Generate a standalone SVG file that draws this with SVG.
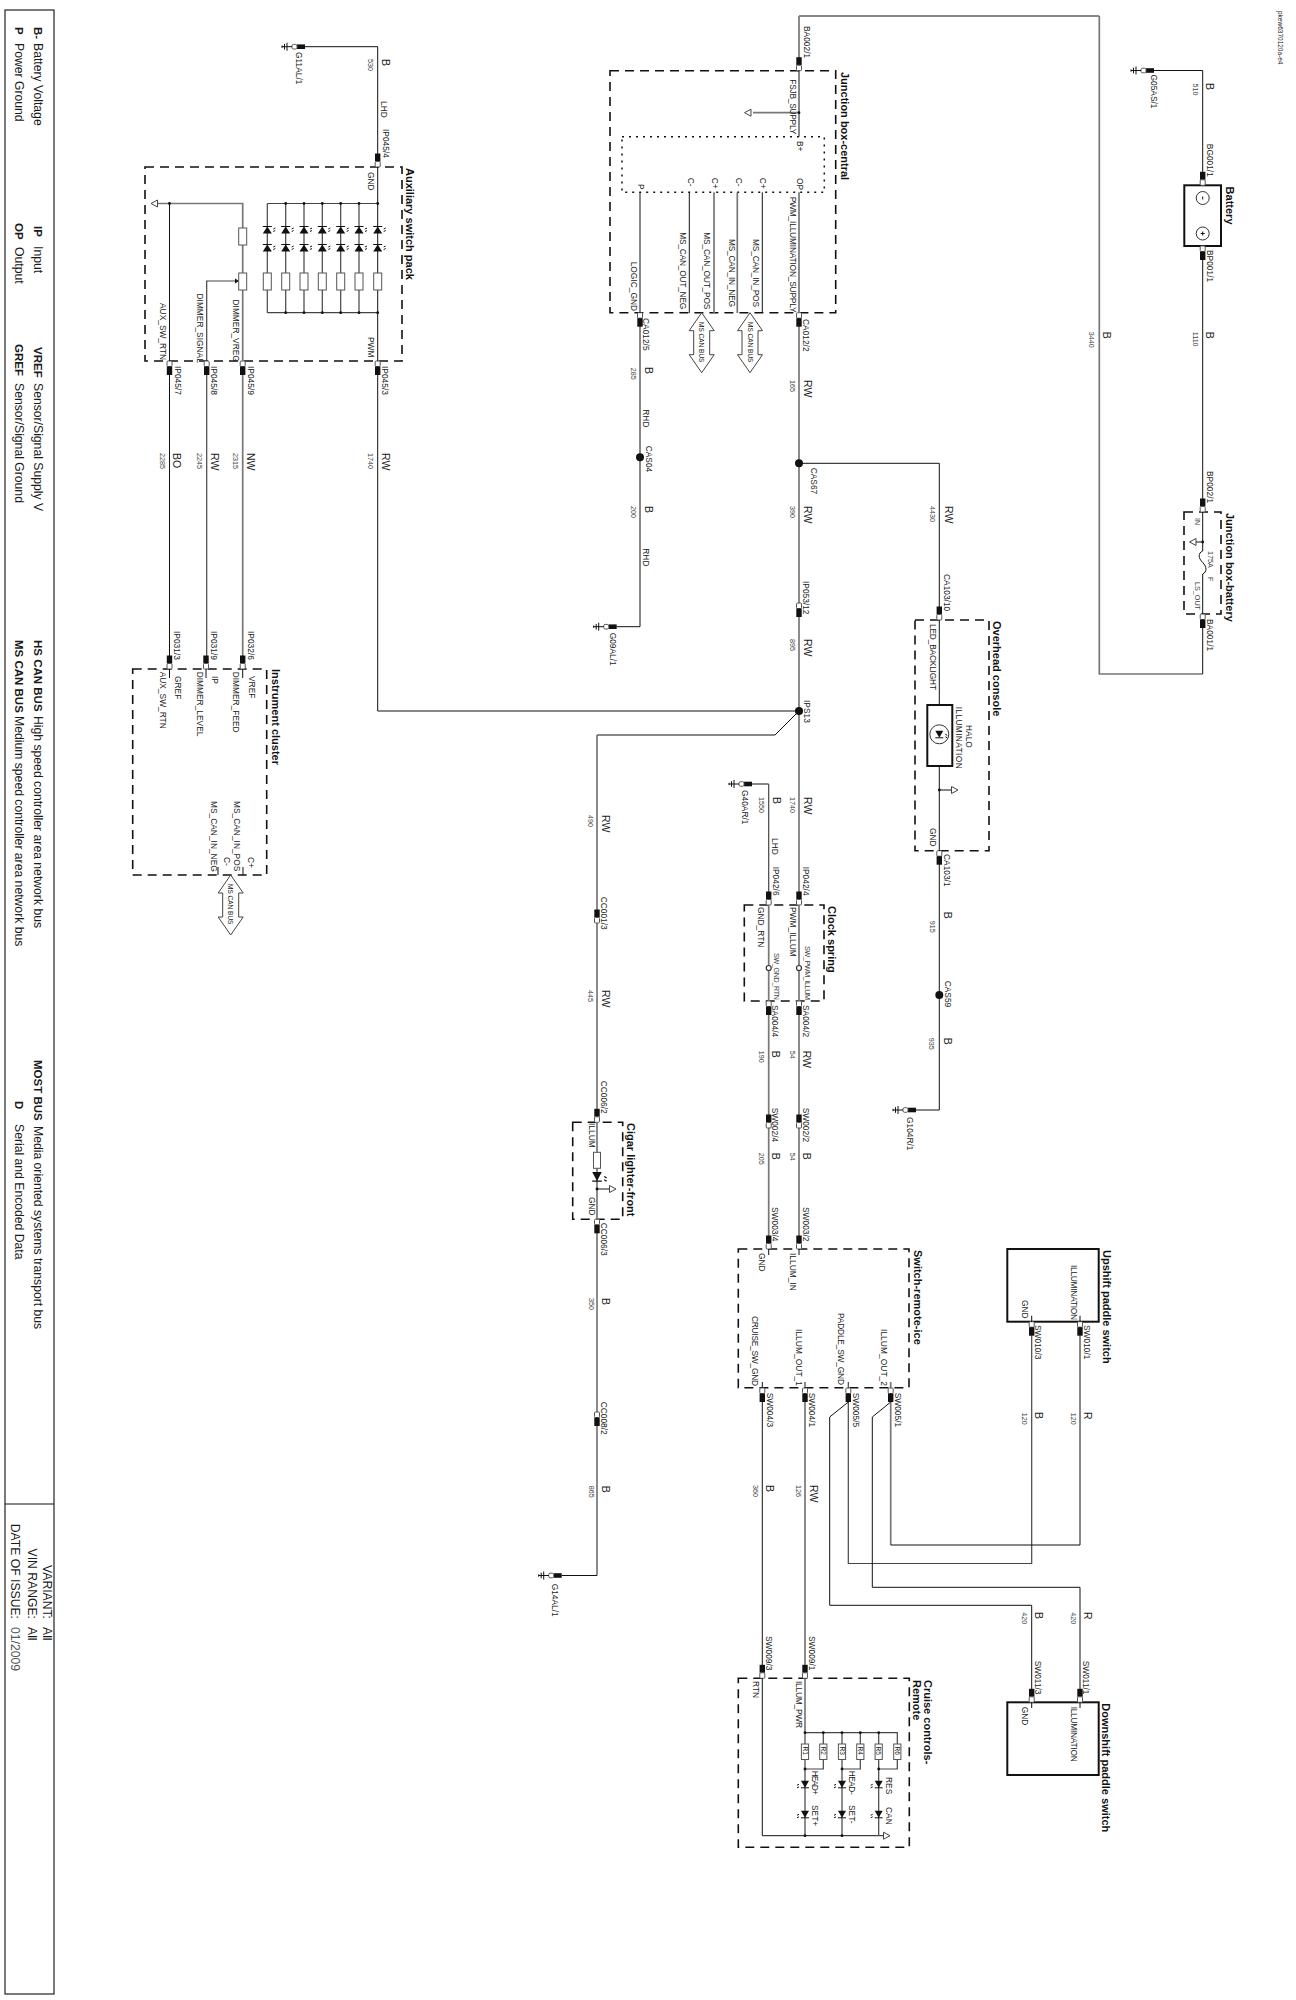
<svg xmlns="http://www.w3.org/2000/svg" width="1296" height="2000" viewBox="0 0 1296 2000">
<style>
text{font-family:"Liberation Sans",Arial,sans-serif;fill:#1a1a1a}
.s{font-size:8.4px}.n{font-size:7.2px;fill:#444}.c{font-size:10.5px}.t{font-size:11px;font-weight:bold;fill:#111}.l{font-size:12.2px}.lb{font-size:11.5px;font-weight:bold}.m{font-size:6.5px}
.k{fill:none;stroke:#111;stroke-width:1}.g{fill:none;stroke:#777;stroke-width:1.7}.h{fill:none;stroke:#444;stroke-width:1.2}
.d{fill:none;stroke:#111;stroke-width:1.6;stroke-dasharray:9 6}.o{fill:none;stroke:#111;stroke-width:1.5;stroke-dasharray:2 5}.b{fill:#fff;stroke:#111;stroke-width:2}
.r{fill:#fff;stroke:#555;stroke-width:1}.tri{fill:#fff;stroke:#444;stroke-width:1}.bus{fill:#fff;stroke:#444;stroke-width:1}
</style>
<defs>
<g id="cD"><rect x="-2.7" y="-13.5" width="5.4" height="8" fill="#111"/><rect x="-2.5" y="-5.5" width="5" height="5.5" rx="1" fill="#fff" stroke="#555"/></g>
<g id="cU"><rect x="-2.5" y="0" width="5" height="5.5" rx="1" fill="#fff" stroke="#555"/><rect x="-2.7" y="5.5" width="5.4" height="8.5" fill="#111"/></g>
<g id="gnd"><rect x="-8" y="-2.3" width="8" height="4.6" fill="#111"/><rect x="-13" y="-2.3" width="5" height="4.6" rx="1.5" fill="#fff" stroke="#555"/><path class="k" d="M-13 0H-23M-18 -4V4M-20.5 -2.8V2.8M-23 -1.2V1.2"/></g>
<g id="lu"><polygon points="-4.5,3.5 4.5,3.5 0,-3.5" fill="#111"/><path class="k" d="M-4.5 -3.5H4.5M6 -1L8 -2M6 1.5L8 .5"/></g>
<g id="ld"><polygon points="-4,-3.5 4,-3.5 0,3.5" fill="#111"/><path class="k" d="M-4 3.5H4M-6 0L-8 1M-6 2.5L-8 3.5"/></g>
<polygon id="tL" class="tri" points="0,0 6.5,-3.5 6.5,3.5"/>
<polygon id="tR" class="tri" points="0,0 -6.5,-3.5 -6.5,3.5"/>
<polygon id="bus" class="bus" points="0,0 12.5,18 8,18 8,42 12.5,42 0,60 -12.5,42 -8,42 -8,18 -12.5,18"/>
<rect id="r8" class="r" x="-4" y="0" width="8" height="17"/>
<rect id="r7" class="r" x="-3.6" y="0" width="7.2" height="15.5"/>
<circle id="dot" r="1.4" fill="#111"/>
<circle id="j" r="4" fill="#111"/>
</defs>

<g id="legend">
<rect x="5" y="10" width="49" height="1984" fill="none" stroke="#222" stroke-width="1.2"/>
<path class="k" d="M5 1504H54"/>
<text class="lb" transform="translate(34 27) rotate(90)">B-</text><text class="l" transform="translate(34 43) rotate(90)">Battery Voltage</text>
<text class="lb" transform="translate(15 27) rotate(90)">P</text><text class="l" transform="translate(15 43) rotate(90)">Power Ground</text>
<text class="lb" transform="translate(34 226) rotate(90)">IP</text><text class="l" transform="translate(34 246) rotate(90)">Input</text>
<text class="lb" transform="translate(15 223) rotate(90)">OP</text><text class="l" transform="translate(15 247) rotate(90)">Output</text>
<text class="lb" transform="translate(34 347) rotate(90)">VREF</text><text class="l" transform="translate(34 383) rotate(90)">Sensor/Signal Supply V</text>
<text class="lb" transform="translate(15 344) rotate(90)">GREF</text><text class="l" transform="translate(15 383) rotate(90)">Sensor/Signal Ground</text>
<text class="lb" transform="translate(34 640) rotate(90)">HS CAN BUS</text><text class="l" transform="translate(34 716) rotate(90)">High speed controller area network bus</text>
<text class="lb" transform="translate(15 640) rotate(90)">MS CAN BUS</text><text class="l" transform="translate(15 716) rotate(90)">Medium speed controller area network bus</text>
<text class="lb" transform="translate(34 1060) rotate(90)">MOST BUS</text><text class="l" transform="translate(34 1126) rotate(90)">Media oriented systems transport bus</text>
<text class="lb" transform="translate(15 1101) rotate(90)">D</text><text class="l" transform="translate(15 1124) rotate(90)">Serial and Encoded Data</text>
<text class="l" text-anchor="end" transform="translate(43 1619) rotate(90)">VARIANT:</text><text class="l" transform="translate(43 1627) rotate(90)">All</text>
<text class="l" text-anchor="end" transform="translate(28 1619) rotate(90)">VIN RANGE:</text><text class="l" transform="translate(28 1627) rotate(90)">All</text>
<text class="l" text-anchor="end" transform="translate(11 1619) rotate(90)">DATE OF ISSUE:</text><text class="l" transform="translate(11 1627) rotate(90)" style="fill:#555">01/2009</text>
</g>
<text class="m" transform="translate(1278 11) rotate(90)">pkew6370120a-e4</text>

<g id="connectors">
<path class="k" d="M305 46.7H377.7V167"/>
<path class="k" d="M377.7 361V711H799"/>
<path class="k" d="M169.5 361V669"/>
<path class="h" d="M206.7 361V669"/>
<path class="g" d="M242.7 361V669"/>
<path class="k" d="M799 16H1099.3"/>
<path class="g" d="M799 16V70.7M1099.3 16V674H1202.7"/>
<path class="k" d="M1154 70.5H1202.7V185M1202.7 246V512M1202.7 614V674"/>
<path class="g" d="M799 313V905"/>
<path class="k" d="M799 463.3H939.3V620M939.3 851V1110H916"/>
<path class="k" d="M640 313V626.7H616.7"/>
<path class="k" d="M799 711L775 735H597"/>
<path class="g" d="M597 735V1122M597 1219V1575.5"/>
<path class="k" d="M597 1575.5H561.7"/>
<path class="k" d="M752 784H768.7"/>
<path class="h" d="M768.7 784V905"/>
<path class="g" d="M768.7 1001V1249M799 1001V1249"/>
<path class="k" d="M762.3 1382V1678"/>
<path class="g" d="M805 1382V1678"/>
<path class="h" d="M848.3 1382V1563.5H1031.7V1316"/>
<path class="k" d="M848.3 1402L829.7 1417V1605.3H1031.7V1708"/>
<path class="g" d="M890.7 1382V1545"/>
<path class="k" d="M890.7 1545H1080V1316"/>
<path class="k" d="M890.7 1402L872.3 1417V1587.3H1080V1708"/>
<use href="#gnd" x="305" y="46.7"/><use href="#gnd" x="1154" y="70.5"/><use href="#gnd" x="616.7" y="626.7"/><use href="#gnd" x="752" y="784"/><use href="#gnd" x="916" y="1110"/><use href="#gnd" x="561.7" y="1575.5"/>
<use href="#cU" x="799" y="603"/><use href="#cD" x="768.7" y="1128"/><use href="#cD" x="799" y="1128"/><use href="#cD" x="597" y="923"/><use href="#cU" x="597" y="1412"/>
<use href="#j" x="799" y="463.3"/><use href="#j" x="640" y="457.3"/><use href="#j" x="799" y="711"/><use href="#j" x="939.3" y="995"/>
<g>
<text class="s" transform="translate(296 52) rotate(90)">G11AL/1</text><text class="n" transform="translate(368 59) rotate(90)">530</text><text class="c" transform="translate(382 59) rotate(90)">B</text><text class="s" transform="translate(381 101) rotate(90)">LHD</text><text class="s" transform="translate(383 129) rotate(90)">IP045/4</text>
<text class="s" transform="translate(175 366) rotate(90)">IP045/7</text><text class="s" transform="translate(211 366) rotate(90)">IP045/8</text><text class="s" transform="translate(248 366) rotate(90)">IP045/9</text><text class="s" transform="translate(382 366) rotate(90)">IP045/3</text>
<text class="n" transform="translate(160 453) rotate(90)">2285</text><text class="c" transform="translate(173 453) rotate(90)">BO</text><text class="n" transform="translate(197 453) rotate(90)">2245</text><text class="c" transform="translate(211 453) rotate(90)">RW</text><text class="n" transform="translate(233 453) rotate(90)">2315</text><text class="c" transform="translate(247 453) rotate(90)">NW</text><text class="n" transform="translate(368 453) rotate(90)">1740</text><text class="c" transform="translate(382 453) rotate(90)">RW</text>
<text class="s" transform="translate(174 631) rotate(90)">IP031/3</text><text class="s" transform="translate(210.7 631) rotate(90)">IP031/9</text><text class="s" transform="translate(247.7 631) rotate(90)">IP032/6</text>
<text class="s" transform="translate(804 26) rotate(90)">BA002/1</text><text class="s" transform="translate(802.7 319) rotate(90)">CA012/2</text><text class="n" transform="translate(790 380) rotate(90)">165</text><text class="c" transform="translate(804 380) rotate(90)">RW</text><text class="s" transform="translate(810.7 467.7) rotate(90)">CAS67</text><text class="n" transform="translate(790 506) rotate(90)">390</text><text class="c" transform="translate(804 506) rotate(90)">RW</text><text class="s" transform="translate(803 581) rotate(90)">IP053/12</text><text class="n" transform="translate(790 639) rotate(90)">895</text><text class="c" transform="translate(804 639) rotate(90)">RW</text><text class="s" transform="translate(804 700) rotate(90)">IPS13</text><text class="n" transform="translate(790 797) rotate(90)">1740</text><text class="c" transform="translate(804 797) rotate(90)">RW</text><text class="s" transform="translate(803 866.7) rotate(90)">IP042/4</text>
<text class="s" transform="translate(642.7 318) rotate(90)">CA012/5</text><text class="n" transform="translate(630.7 367.7) rotate(90)">285</text><text class="c" transform="translate(645 367) rotate(90)">B</text><text class="s" transform="translate(643.3 409.3) rotate(90)">RHD</text><text class="s" transform="translate(646 445.7) rotate(90)">CAS04</text><text class="n" transform="translate(630.7 506) rotate(90)">200</text><text class="c" transform="translate(645 506) rotate(90)">B</text><text class="s" transform="translate(642.7 548.3) rotate(90)">RHD</text><text class="s" transform="translate(610 632.7) rotate(90)">G09AL/1</text>
<text class="s" transform="translate(1151 74.5) rotate(90)">G05AS/1</text><text class="n" transform="translate(1192.7 83.5) rotate(90)">510</text><text class="c" transform="translate(1206 83) rotate(90)">B</text><text class="s" transform="translate(1207 143.8) rotate(90)">BG001/1</text><text class="s" transform="translate(1207 250) rotate(90)">BP001/1</text><text class="n" transform="translate(1192.7 331.7) rotate(90)">1110</text><text class="c" transform="translate(1206 331.7) rotate(90)">B</text><text class="n" transform="translate(1089 331.7) rotate(90)">3440</text><text class="c" transform="translate(1102.7 331.7) rotate(90)">B</text><text class="s" transform="translate(1207 471) rotate(90)">BP002/1</text><text class="s" transform="translate(1207 619) rotate(90)">BA001/1</text>
<text class="n" transform="translate(930 506) rotate(90)">4430</text><text class="c" transform="translate(945 506) rotate(90)">RW</text><text class="s" transform="translate(944 574) rotate(90)">CA103/10</text><text class="s" transform="translate(944 854) rotate(90)">CA103/1</text><text class="n" transform="translate(930 920.7) rotate(90)">915</text><text class="c" transform="translate(944 911.7) rotate(90)">B</text><text class="s" transform="translate(945 980.7) rotate(90)">CAS59</text><text class="n" transform="translate(929 1037.7) rotate(90)">935</text><text class="c" transform="translate(944 1037.7) rotate(90)">B</text><text class="s" transform="translate(906.7 1117) rotate(90)">G104R/1</text>
<text class="s" transform="translate(742.3 790) rotate(90)">G40AR/1</text><text class="n" transform="translate(759 797) rotate(90)">1550</text><text class="c" transform="translate(772.7 797) rotate(90)">B</text><text class="s" transform="translate(772 838) rotate(90)">LHD</text><text class="s" transform="translate(773 866.7) rotate(90)">IP042/6</text>
<text class="s" transform="translate(772 1005) rotate(90)">SA004/4</text><text class="s" transform="translate(802.7 1005) rotate(90)">SA004/2</text><text class="n" transform="translate(759 1050.7) rotate(90)">190</text><text class="c" transform="translate(772 1050.7) rotate(90)">B</text><text class="n" transform="translate(790 1050.7) rotate(90)">54</text><text class="c" transform="translate(802.7 1050.7) rotate(90)">RW</text><text class="s" transform="translate(772 1107.7) rotate(90)">SW002/4</text><text class="s" transform="translate(802.7 1107.7) rotate(90)">SW002/2</text><text class="n" transform="translate(759 1152.7) rotate(90)">205</text><text class="c" transform="translate(772 1152.7) rotate(90)">B</text><text class="n" transform="translate(790 1152.7) rotate(90)">54</text><text class="c" transform="translate(802.7 1152.7) rotate(90)">B</text><text class="s" transform="translate(772 1207) rotate(90)">SW003/4</text><text class="s" transform="translate(802.7 1207) rotate(90)">SW003/2</text>
<text class="s" transform="translate(766.7 1392.7) rotate(90)">SW004/3</text><text class="s" transform="translate(809 1392.7) rotate(90)">SW004/1</text><text class="s" transform="translate(852.7 1392.7) rotate(90)">SW005/5</text><text class="s" transform="translate(895 1392.7) rotate(90)">SW005/1</text>
<text class="n" transform="translate(753.3 1485) rotate(90)">360</text><text class="c" transform="translate(766 1485) rotate(90)">B</text><text class="n" transform="translate(796 1485) rotate(90)">126</text><text class="c" transform="translate(810 1485) rotate(90)">RW</text>
<text class="s" transform="translate(765.7 1636) rotate(90)">SW009/3</text><text class="s" transform="translate(808.7 1636) rotate(90)">SW009/1</text>
<text class="s" transform="translate(1035 1325) rotate(90)">SW010/3</text><text class="s" transform="translate(1084 1325) rotate(90)">SW010/1</text><text class="n" transform="translate(1021.7 1412.7) rotate(90)">120</text><text class="c" transform="translate(1035 1412) rotate(90)">B</text><text class="n" transform="translate(1070.7 1412.7) rotate(90)">120</text><text class="c" transform="translate(1084 1412) rotate(90)">R</text>
<text class="n" transform="translate(1021.7 1612.3) rotate(90)">420</text><text class="c" transform="translate(1035 1612) rotate(90)">B</text><text class="n" transform="translate(1070.7 1612.3) rotate(90)">420</text><text class="c" transform="translate(1084 1612) rotate(90)">R</text><text class="s" transform="translate(1035 1660.7) rotate(90)">SW011/3</text><text class="s" transform="translate(1083.3 1660.7) rotate(90)">SW011/1</text>
<text class="n" transform="translate(588.3 815) rotate(90)">490</text><text class="c" transform="translate(601.7 815) rotate(90)">RW</text><text class="s" transform="translate(600.7 896.7) rotate(90)">CC001/3</text><text class="n" transform="translate(588.3 990) rotate(90)">445</text><text class="c" transform="translate(601.7 990) rotate(90)">RW</text><text class="s" transform="translate(601 1080.7) rotate(90)">CC006/2</text><text class="s" transform="translate(601 1222.7) rotate(90)">CC006/3</text><text class="n" transform="translate(589 1298) rotate(90)">350</text><text class="c" transform="translate(601.7 1298) rotate(90)">B</text><text class="s" transform="translate(601 1401.7) rotate(90)">CC008/2</text><text class="n" transform="translate(589 1485.7) rotate(90)">865</text><text class="c" transform="translate(601.7 1485.7) rotate(90)">B</text><text class="s" transform="translate(551.7 1583.7) rotate(90)">G14AL/1</text>
</g>
</g>

<g id="auxiliary-switch-pack">
<rect class="d" x="145" y="167" width="257" height="194"/>
<text class="t" transform="translate(406 168) rotate(90)">Auxiliary switch pack</text>
<use href="#cD" x="377.7" y="167"/><use href="#cU" x="169.5" y="361"/><use href="#cU" x="206.7" y="361"/><use href="#cU" x="242.7" y="361"/><use href="#cU" x="377.7" y="361"/>
<path class="h" d="M267.3 203.5H377.7M267.3 312.7H377.7M267.3 203.5V312.7M285.7 203.5V312.7M304 203.5V312.7M322.3 203.5V312.7M340.7 203.5V312.7M359 203.5V312.7"/>
<path class="k" d="M377.7 167V361M169.5 203.5V361"/>
<path class="g" d="M157 203.5H242.7V361"/>
<path class="h" d="M206.7 361V281H235"/><polygon points="239,281 235,278.5 235,283.5" fill="#111"/>
<use href="#tL" x="151" y="203.5"/>
<use href="#dot" x="169.5" y="203.5"/>
<g id="aux-leds">
<use href="#dot" x="285.7" y="203.5"/><use href="#dot" x="304" y="203.5"/><use href="#dot" x="322.3" y="203.5"/><use href="#dot" x="340.7" y="203.5"/><use href="#dot" x="359" y="203.5"/><use href="#dot" x="377.7" y="203.5"/>
<use href="#dot" x="285.7" y="312.7"/><use href="#dot" x="304" y="312.7"/><use href="#dot" x="322.3" y="312.7"/><use href="#dot" x="340.7" y="312.7"/><use href="#dot" x="359" y="312.7"/><use href="#dot" x="377.7" y="312.7"/>
<use href="#lu" x="267.3" y="230"/><use href="#lu" x="285.7" y="230"/><use href="#lu" x="304" y="230"/><use href="#lu" x="322.3" y="230"/><use href="#lu" x="340.7" y="230"/><use href="#lu" x="359" y="230"/><use href="#lu" x="377.7" y="230"/>
<use href="#lu" x="267.3" y="248"/><use href="#lu" x="285.7" y="248"/><use href="#lu" x="304" y="248"/><use href="#lu" x="322.3" y="248"/><use href="#lu" x="340.7" y="248"/><use href="#lu" x="359" y="248"/><use href="#lu" x="377.7" y="248"/>
<use href="#r8" x="267.3" y="273"/><use href="#r8" x="285.7" y="273"/><use href="#r8" x="304" y="273"/><use href="#r8" x="322.3" y="273"/><use href="#r8" x="340.7" y="273"/><use href="#r8" x="359" y="273"/><use href="#r8" x="377.7" y="273"/>
<use href="#r8" x="242.7" y="228"/><use href="#r8" x="242.7" y="273"/>
</g>
<text class="s" transform="translate(368 172) rotate(90)">GND</text><text class="s" transform="translate(368 337) rotate(90)">PWM</text>
<text class="s" transform="translate(160 303) rotate(90)">AUX_SW_RTN</text><text class="s" transform="translate(197 293.5) rotate(90)">DIMMER_SIGNAL</text><text class="s" transform="translate(233 299.5) rotate(90)">DIMMER_VREG</text>
</g>

<g id="instrument-cluster">
<rect class="d" x="132.7" y="669" width="134" height="206"/>
<text class="t" transform="translate(271.7 669) rotate(90)">Instrument cluster</text>
<use href="#cD" x="169.5" y="669"/><use href="#cD" x="206" y="669"/><use href="#cD" x="242.7" y="669"/>
<path class="k" d="M169.5 669V678M206 669V678M242.7 669V678M218 867V875M243 867V875"/>
<use href="#bus" x="230.7" y="875"/>
<text class="m" transform="translate(228 884) rotate(90)">MS CAN BUS</text>
<text class="s" transform="translate(175 676) rotate(90)">GREF</text><text class="s" transform="translate(160 671.7) rotate(90)">AUX_SW_RTN</text><text class="s" transform="translate(211.7 676) rotate(90)">IP</text><text class="s" transform="translate(196.7 671.7) rotate(90)">DIMMER_LEVEL</text><text class="s" transform="translate(248.7 676) rotate(90)">VREF</text><text class="s" transform="translate(233.3 671.7) rotate(90)">DIMMER_FEED</text>
<text class="s" transform="translate(210.7 801) rotate(90)">MS_CAN_IN_NEG</text><text class="s" transform="translate(234.3 801) rotate(90)">MS_CAN_IN_POS</text><text class="s" transform="translate(224 857) rotate(90)">C-</text><text class="s" transform="translate(248.3 857) rotate(90)">C+</text>
</g>

<g id="junction-box-central">
<rect class="d" x="610" y="70.7" width="225.7" height="242"/>
<rect class="o" x="622" y="136.7" width="202.3" height="55.6"/>
<text class="t" transform="translate(841 72) rotate(90)">Junction box-central</text>
<use href="#cD" x="799" y="70.7"/><use href="#cU" x="640" y="312.7"/><use href="#cU" x="799" y="312.7"/>
<path class="k" d="M799 70.7V136.7M640 192.3V313M689.3 192.3V313M762.3 192.3V313"/>
<path class="g" d="M799 192.3V313M714 192.3V313M737.3 192.3V313M753 112.7H799"/>
<use href="#tL" x="744.5" y="112.7"/><use href="#dot" x="799" y="112.7"/>
<use href="#bus" x="701.7" y="312.7"/><use href="#bus" x="750" y="312.7"/>
<text class="m" transform="translate(699.3 322) rotate(90)">MS CAN BUS</text><text class="m" transform="translate(748 322) rotate(90)">MS CAN BUS</text>
<text class="s" transform="translate(790 79.3) rotate(90)" textLength="55">FSJB_SUPPLY</text><text class="s" transform="translate(797 141) rotate(90)">B+</text><text class="s" transform="translate(797 178) rotate(90)">OP</text><text class="s" transform="translate(790 196.7) rotate(90)" textLength="116">PWM_ILLUMINATION_SUPPLY</text>
<text class="s" transform="translate(638 184) rotate(90)">P</text><text class="s" transform="translate(630.7 261.7) rotate(90)">LOGIC_GND</text>
<text class="s" transform="translate(687.7 177.7) rotate(90)">C-</text><text class="s" transform="translate(711.7 177.7) rotate(90)">C+</text><text class="s" transform="translate(736 177.7) rotate(90)">C-</text><text class="s" transform="translate(760 177.7) rotate(90)">C+</text>
<text class="s" transform="translate(680 232.3) rotate(90)" textLength="77">MS_CAN_OUT_NEG</text><text class="s" transform="translate(704.3 232.3) rotate(90)" textLength="77">MS_CAN_OUT_POS</text><text class="s" transform="translate(729.3 239) rotate(90)" textLength="68">MS_CAN_IN_NEG</text><text class="s" transform="translate(753.3 239) rotate(90)" textLength="68">MS_CAN_IN_POS</text>
</g>

<g id="battery">
<rect class="b" x="1184.3" y="185.3" width="36.7" height="60.7"/>
<text class="t" transform="translate(1226 186.6) rotate(90)">Battery</text>
<use href="#cD" x="1202.7" y="185.3"/><use href="#cU" x="1202.7" y="246"/>
<circle cx="1202.7" cy="198" r="6.5" fill="#fff" stroke="#333"/><circle cx="1202.7" cy="233.5" r="6.5" fill="#fff" stroke="#333"/>
<path class="k" d="M1202.7 196.5V199.5M1202.7 231.5V235.5M1200.7 233.5H1204.7"/>
</g>

<g id="junction-box-battery">
<rect class="d" x="1184" y="512" width="37" height="102"/>
<text class="t" transform="translate(1226 513) rotate(90)">Junction box-battery</text>
<use href="#cD" x="1202.7" y="512"/><use href="#cU" x="1202.7" y="614"/>
<path class="k" d="M1202.7 512V551M1202.7 574V614M1196 542H1202.7M1202.7 551C1198 553 1198 558 1202.7 562.5C1207 567 1207 572 1202.7 574"/>
<use href="#dot" x="1202.7" y="542"/><use href="#tL" x="1189.5" y="542"/>
<text class="n" transform="translate(1195 518) rotate(90)">IN</text><text class="n" transform="translate(1208 551) rotate(90)">175A</text><text class="n" transform="translate(1208 577) rotate(90)">F</text><text class="n" transform="translate(1195 582) rotate(90)">LS_OUT</text>
</g>

<g id="overhead-console">
<rect class="d" x="915" y="620" width="74" height="230.7"/>
<text class="t" transform="translate(992.7 621) rotate(90)">Overhead console</text>
<use href="#cD" x="939.3" y="620"/><use href="#cU" x="939.3" y="850.7"/>
<path class="k" d="M939.3 620V851M939.3 790H951"/>
<rect class="b" x="927.3" y="705" width="25" height="61"/>
<circle cx="939.3" cy="734.3" r="9.5" fill="#fff" stroke="#333"/>
<use href="#ld" transform="translate(939.3 734.3) scale(-1 1)"/>
<use href="#dot" x="939.3" y="790"/><use href="#tR" x="958" y="790"/>
<text class="s" transform="translate(930 624) rotate(90)" textLength="66">LED_BACKLIGHT</text><text class="s" transform="translate(965.7 725) rotate(90)">HALO</text><text class="s" transform="translate(955.7 706.7) rotate(90)" textLength="62">ILLUMINATION</text><text class="s" transform="translate(930 828) rotate(90)">GND</text>
</g>

<g id="clock-spring">
<rect class="d" x="744.3" y="905" width="79.7" height="96"/>
<text class="t" transform="translate(828 906) rotate(90)">Clock spring</text>
<use href="#cD" x="768.7" y="905"/><use href="#cD" x="799" y="905"/><use href="#cU" x="768.7" y="1001"/><use href="#cU" x="799" y="1001"/>
<path class="g" d="M768.7 905V1001M799 905V1001"/>
<circle cx="768.7" cy="968" r="2.5" fill="#fff" stroke="#333" stroke-width="1.2"/><circle cx="799" cy="968" r="2.5" fill="#fff" stroke="#333" stroke-width="1.2"/>
<text class="s" transform="translate(758 907) rotate(90)">GND_RTN</text><text class="s" transform="translate(790 907) rotate(90)">PWM_ILLUM</text><text class="n" transform="translate(774 953) rotate(90)" textLength="47">SW_GND_RTN</text><text class="n" transform="translate(805 946) rotate(90)" textLength="54">SW_PWM_ILLUM</text>
</g>

<g id="cigar-lighter-front">
<rect class="d" x="572.7" y="1122.3" width="50" height="97"/>
<text class="t" transform="translate(626.7 1123) rotate(90)">Cigar lighter-front</text>
<use href="#cD" x="597" y="1122.3"/><use href="#cU" x="597" y="1219.3"/>
<path class="g" d="M597 1122V1219"/><path class="k" d="M597 1189H609"/>
<rect class="r" x="593.5" y="1152.3" width="7" height="16"/>
<use href="#ld" transform="translate(597 1176.5) scale(-1.2 1.3)"/>
<use href="#dot" x="597" y="1189"/><use href="#tR" x="616" y="1189"/>
<text class="s" transform="translate(589 1123) rotate(90)">ILLUM</text><text class="s" transform="translate(589 1197) rotate(90)">GND</text>
</g>

<g id="switch-remote-ice">
<rect class="d" x="738.3" y="1249" width="170.7" height="138.7"/>
<text class="t" transform="translate(914 1250) rotate(90)">Switch-remote-ice</text>
<use href="#cD" x="768.7" y="1249"/><use href="#cD" x="799" y="1249"/>
<use href="#cU" x="762.3" y="1388"/><use href="#cU" x="805" y="1388"/><use href="#cU" x="848.3" y="1388"/><use href="#cU" x="890.7" y="1388"/>
<path class="k" d="M768.7 1249V1255M799 1249V1255"/>
<text class="s" transform="translate(759 1253) rotate(90)">GND</text><text class="s" transform="translate(790 1253) rotate(90)">ILLUM_IN</text>
<text class="s" transform="translate(752.3 1316) rotate(90)" textLength="70">CRUISE_SW_GND</text><text class="s" transform="translate(796 1329) rotate(90)" textLength="57">ILLUM_OUT_1</text><text class="s" transform="translate(837.7 1313) rotate(90)" textLength="72">PADDLE_SW_GND</text><text class="s" transform="translate(881 1329) rotate(90)" textLength="57">ILLUM_OUT_2</text>
</g>

<g id="upshift-paddle-switch">
<rect class="b" x="1007.3" y="1249" width="91.4" height="72.7"/>
<text class="t" transform="translate(1103 1250) rotate(90)">Upshift paddle switch</text>
<use href="#cU" x="1031.7" y="1321.7"/><use href="#cU" x="1080" y="1321.7"/>
<path class="k" d="M1031.7 1315.7V1322M1080 1315.7V1322"/>
<text class="s" transform="translate(1070.7 1265) rotate(90)" textLength="55">ILLUMINATION</text><text class="s" transform="translate(1021.7 1300) rotate(90)">GND</text>
</g>

<g id="downshift-paddle-switch">
<rect class="b" x="1007.3" y="1702.3" width="91.4" height="72.7"/>
<text class="t" transform="translate(1102 1703.3) rotate(90)">Downshift paddle switch</text>
<use href="#cD" x="1031.7" y="1702.3"/><use href="#cD" x="1080" y="1702.3"/>
<path class="k" d="M1031.7 1702V1708M1080 1702V1708"/>
<text class="s" transform="translate(1070.7 1706.7) rotate(90)" textLength="55">ILLUMINATION</text><text class="s" transform="translate(1021.7 1706.7) rotate(90)">GND</text>
</g>

<g id="cruise-controls-remote">
<rect class="d" x="738.3" y="1678.3" width="171" height="169"/>
<text class="t" transform="translate(924 1680) rotate(90)">Cruise controls-</text><text class="t" transform="translate(913.3 1680) rotate(90)">Remote</text>
<use href="#cD" x="762.3" y="1678.3"/><use href="#cD" x="805" y="1678.3"/>
<path class="k" d="M762.3 1678V1835.7H878.7"/>
<path class="h" d="M878.7 1835.7H884M805 1678V1835.7M842 1732.7V1835.7M878.7 1732.7V1835.7M805 1732.7H897.3V1769H878.7M823.3 1732.7V1769H805M860.3 1732.7V1769H842"/>
<use href="#tR" x="890" y="1835.7"/>
<use href="#dot" x="805" y="1732.7"/><use href="#dot" x="823.3" y="1732.7"/><use href="#dot" x="842" y="1732.7"/><use href="#dot" x="860.3" y="1732.7"/><use href="#dot" x="878.7" y="1732.7"/>
<use href="#dot" x="805" y="1769"/><use href="#dot" x="842" y="1769"/><use href="#dot" x="878.7" y="1769"/><use href="#dot" x="805" y="1835.7"/><use href="#dot" x="842" y="1835.7"/>
<use href="#r7" x="805" y="1744"/><use href="#r7" x="823.3" y="1744"/><use href="#r7" x="842" y="1744"/><use href="#r7" x="860.3" y="1744"/><use href="#r7" x="878.7" y="1744"/><use href="#r7" x="897.3" y="1744"/>
<use href="#ld" x="805" y="1784.3"/><use href="#ld" x="842" y="1784.3"/><use href="#ld" x="878.7" y="1784.3"/><use href="#ld" x="805" y="1814.3"/><use href="#ld" x="842" y="1814.3"/><use href="#ld" x="878.7" y="1814.3"/>
<text class="m" transform="translate(802.7 1746.5) rotate(90)">R1</text><text class="m" transform="translate(821 1746.5) rotate(90)">R2</text><text class="m" transform="translate(839.7 1746.5) rotate(90)">R3</text><text class="m" transform="translate(858 1746.5) rotate(90)">R4</text><text class="m" transform="translate(876.4 1746.5) rotate(90)">R5</text><text class="m" transform="translate(895 1746.5) rotate(90)">R6</text>
<text class="s" transform="translate(753.3 1681) rotate(90)">RTN</text><text class="s" transform="translate(796 1681) rotate(90)" textLength="47">ILLUM_PWR</text>
<text class="s" transform="translate(812.3 1770.7) rotate(90)" textLength="24">HEAD+</text><text class="s" transform="translate(812.3 1805) rotate(90)">SET+</text><text class="s" transform="translate(849.3 1770.7) rotate(90)" textLength="24">HEAD-</text><text class="s" transform="translate(849.3 1805) rotate(90)">SET-</text><text class="s" transform="translate(885.7 1777) rotate(90)">RES</text><text class="s" transform="translate(885.7 1807) rotate(90)">CAN</text>
</g>
</svg>
